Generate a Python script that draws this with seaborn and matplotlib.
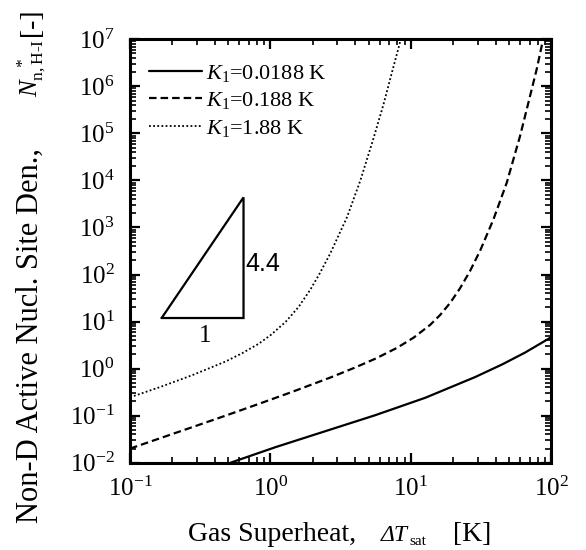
import numpy as np
import pandas as pd
import matplotlib
matplotlib.use("Agg")
import matplotlib.pyplot as plt
import seaborn as sns
from matplotlib.ticker import LogLocator, FixedLocator, FixedFormatter, NullFormatter
from matplotlib.lines import Line2D

# Non-dimensional active nucleation site density vs. gas superheat
dT_k0188 = [0.51, 1.086, 2.46, 5.572, 12.65, 28.64, 44.67, 64.86, 100.0]
N_k0188 = [0.0098, 0.0214, 0.0468, 0.1023, 0.240, 0.661, 1.230, 2.188, 4.677]

dT_k188 = [0.1, 0.2773, 0.4786, 0.826, 1.426, 2.667, 3.981, 5.623, 7.943, 10.47,
           13.71, 16.14, 19.05, 22.39, 26.30, 31.12, 38.64, 48.08, 59.84, 68.55,
           78.52, 85.31, 87.30]
N_k188 = [0.01995, 0.0569, 0.100, 0.1778, 0.320, 0.6457, 1.047, 1.641, 2.754, 4.571,
          8.511, 13.80, 25.12, 51.29, 117.5, 323.6, 1479.0, 8913.0, 8.81e4, 4.467e5,
          2.291e6, 7.244e6, 1.0e7]

dT_k1880 = [0.1, 0.1607, 0.2773, 0.4786, 0.631, 0.826, 1.0, 1.279, 1.585, 1.923,
            2.239, 2.667, 3.508, 4.365, 5.420, 6.383, 7.328, 8.166, 8.453]
N_k1880 = [0.2455, 0.398, 0.7244, 1.413, 2.138, 3.388, 5.129, 9.772, 20.42, 47.86,
           104.7, 281.8, 1660.0, 1.0e4, 7.943e4, 4.169e5, 1.995e6, 6.607e6, 1.0e7]

series_labels = [r"$K_1$=0.0188 K", r"$K_1$=0.188 K", r"$K_1$=1.88 K"]

x_ticks = [0.1, 1, 10, 100]
x_tick_labels = [r"$10^{-1}$", r"$10^{0}$", r"$10^{1}$", r"$10^{2}$"]
y_ticks = [1e-2, 1e-1, 1e0, 1e1, 1e2, 1e3, 1e4, 1e5, 1e6, 1e7]
y_tick_labels = [r"$10^{-2}$", r"$10^{-1}$", r"$10^{0}$", r"$10^{1}$", r"$10^{2}$",
                 r"$10^{3}$", r"$10^{4}$", r"$10^{5}$", r"$10^{6}$", r"$10^{7}$"]

# slope guide triangle
tri_x = [0.168, 0.643]
tri_y0 = 11.9
tri_slope = 4.4

sns.set_theme(style="ticks")
plt.rcParams.update({
    "font.family": ["Liberation Serif", "DejaVu Serif"],
    "mathtext.fontset": "custom",
    "mathtext.rm": "Liberation Serif",
    "mathtext.it": "Liberation Serif:italic",
    "mathtext.bf": "Liberation Serif:bold",
    "axes.edgecolor": "black",
    "axes.linewidth": 2.2,
    "xtick.color": "black",
    "ytick.color": "black",
    "text.color": "black",
})

fig = plt.figure(figsize=(5.86, 5.5), dpi=100)
W, H = 586, 550
ax = fig.add_axes([130 / W, 1 - 462.7 / H, 421.4 / W, 423.4 / H])

styles = [
    dict(linestyle="-", linewidth=1.6),
    dict(linestyle=(0, (3.4, 1.8)), linewidth=1.6),
    dict(linestyle=(0, (1.0, 1.3)), linewidth=1.3),
]
series = [(dT_k0188, N_k0188), (dT_k188, N_k188), (dT_k1880, N_k1880)]
for (xs, ys), st in zip(series, styles):
    df = pd.DataFrame({"dT": xs, "N": ys})
    sns.lineplot(data=df, x="dT", y="N", ax=ax, color="black",
                 estimator=None, sort=False, **st)

ax.set_xscale("log")
ax.set_yscale("log")
ax.set_xlim(0.1, 100)
ax.set_ylim(1e-2, 1e7)

ax.xaxis.set_major_locator(FixedLocator(x_ticks))
ax.xaxis.set_major_formatter(FixedFormatter(x_tick_labels))
ax.yaxis.set_major_locator(FixedLocator(y_ticks))
ax.yaxis.set_major_formatter(FixedFormatter(y_tick_labels))
for axis in (ax.xaxis, ax.yaxis):
    axis.set_minor_locator(LogLocator(base=10, subs=np.arange(2, 10), numticks=20))
    axis.set_minor_formatter(NullFormatter())

ax.tick_params(which="both", direction="in", top=True, right=True)
ax.tick_params(which="major", length=7, width=1.6, labelsize=18)
ax.tick_params(which="minor", length=4, width=1.2)
ax.tick_params(axis="x", which="major", pad=10)
ax.tick_params(axis="y", which="major", pad=11)
ax.set_xlabel("")
ax.set_ylabel("")

# slope triangle
tx0, tx1 = tri_x
ty1 = tri_y0 * (tx1 / tx0) ** tri_slope
ax.plot([tx0, tx1, tx1, tx0], [tri_y0, tri_y0, ty1, tri_y0], color="black",
        linewidth=1.6, solid_joinstyle="miter")
ax.text(0.664, 167, f"{tri_slope}", fontsize=18, family="Liberation Sans",
        ha="left", va="center")
ax.text(0.345, 4.9, "1", fontsize=18, ha="center", va="center")

# legend
handles = [Line2D([], [], color="black", **st) for st in styles]
ax.legend(handles, series_labels, loc="upper left", bbox_to_anchor=(0.045, 0.945),
          frameon=False, fontsize=16, handlelength=2.4, handletextpad=0.15,
          labelspacing=0.3, borderpad=0, borderaxespad=0)


def fx(px):
    return px / W


def fy(py):
    return 1 - py / H


# x-axis title, set piece by piece
fig.text(fx(188), fy(541), "Gas Superheat,", fontsize=20, ha="left", va="baseline")
fig.text(fx(381), fy(541), "ΔT", fontsize=17, style="italic", ha="left", va="baseline")
fig.text(fx(409), fy(545), "sat", fontsize=11, ha="left", va="baseline")
fig.text(fx(453), fy(541), "[K]", fontsize=20, ha="left", va="baseline")

# y-axis title, rotated
rot = dict(rotation=90, rotation_mode="anchor", ha="left", va="baseline")
fig.text(fx(38), fy(523), "Non-D Active Nucl. Site Den.,", fontsize=22, **rot)
fig.text(fx(38), fy(97), r"$N_{\mathrm{n,H\text{-}I}}^{\ \ *}$", fontsize=18, **rot)
fig.text(fx(38), fy(36), "[-]", fontsize=20, **rot)

fig.savefig("out.png", dpi=100)
